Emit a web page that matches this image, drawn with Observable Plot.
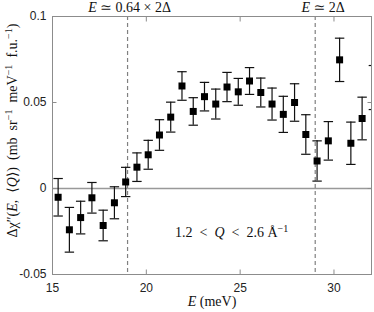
<!DOCTYPE html>
<html>
<head>
<meta charset="utf-8">
<script src="https://cdn.jsdelivr.net/npm/d3@7"></script>
<script src="https://cdn.jsdelivr.net/npm/@observablehq/plot@0.6"></script>
<style>
  html, body { margin: 0; padding: 0; background: #fff; }
  svg { display: block; }
</style>
</head>
<body>
<div id="chart"></div>
<script>
// Energy transfer (meV)
const energy = [15.3, 15.9, 16.5, 17.1, 17.7, 18.3, 18.9, 19.5, 20.1, 20.7, 21.3, 21.9, 22.5, 23.1, 23.7,
                24.3, 24.9, 25.5, 26.1, 26.7, 27.3, 27.9, 28.5, 29.1, 29.7, 30.3, 30.9, 31.5, 32.1];
// Δχ''(E,<Q>) values
const chi = [-0.0051, -0.0240, -0.0169, -0.0054, -0.0215, -0.0083, 0.0038, 0.0124, 0.0196, 0.0311,
             0.0415, 0.0596, 0.0448, 0.0534, 0.0491, 0.0590, 0.0562, 0.0625, 0.0558, 0.0491,
             0.0431, 0.0500, 0.0314, 0.0160, 0.0277, 0.0748, 0.0263, 0.0407, 0.0587];
// error bar half-widths
const err = [0.0109, 0.0130, 0.0095, 0.0089, 0.0089, 0.0093, 0.0085, 0.0083, 0.0084, 0.0089,
             0.0087, 0.0083, 0.0080, 0.0083, 0.0087, 0.0085, 0.0078, 0.0078, 0.0084, 0.0093,
             0.0105, 0.0109, 0.0115, 0.0117, 0.0112, 0.0126, 0.0123, 0.0124, 0.0128];
const xTicks = [15, 20, 25, 30];
const yTicks = [-0.05, 0, 0.05, 0.1];
const markerE = [19, 29];
const markerLabels = ["*E* ≃ 0.64 × 2Δ", "*E* ≃ 2Δ"];
const qLabel = {E: 24.55, v: -0.0254, text: "1.2\u2002<\u2002*Q*\u2002<\u20022.6 Å^{−1}"};
const xLabel = "*E* (meV)";
const yLabel = "Δχ″(*E*,\u2002⟨*Q*⟩)\u2002(mb\u2002sr^{−1}\u2002meV^{−1}\u2002f.u.^{−1})";

const xDomain = [15, 32];
const data = energy.map((E, i) => ({E, v: chi[i], e: err[i]}));
// markers whose centre lies outside the axes are not drawn (only their clipped error bars show)
const inside = data.filter(d => d.E >= xDomain[0] && d.E <= xDomain[1]);

const capSymbol = {
  draw(context, size) {
    const h = Math.sqrt(size / Math.PI);
    context.moveTo(-h, 0);
    context.lineTo(h, 0);
  }
};

const serif = "'Liberation Serif', 'DejaVu Serif', serif";
const gridCol = "#8c8c8c";

const plot = Plot.plot({
  width: 374,
  height: 312,
  marginLeft: 52,
  marginRight: 3,
  marginTop: 16,
  marginBottom: 38,
  style: {fontFamily: "'Liberation Sans', Arial, sans-serif", fontSize: "12px", color: "#222", background: "#fff"},
  x: {domain: xDomain, label: null},
  y: {domain: [-0.05, 0.1], label: null},
  marks: [
    Plot.ruleY([0], {stroke: "#999", strokeWidth: 1.5}),
    Plot.ruleX(markerE, {stroke: "#808080", strokeWidth: 1.2, strokeDasharray: "4,3"}),
    Plot.ruleX(data, {x: "E", y1: d => d.v - d.e, y2: d => d.v + d.e, stroke: "#111", strokeWidth: 1.2, clip: true}),
    Plot.dot(data, {x: "E", y: d => d.v - d.e, symbol: capSymbol, r: 4.7, stroke: "#111", strokeWidth: 1.2, fill: "none", clip: true}),
    Plot.dot(data, {x: "E", y: d => d.v + d.e, symbol: capSymbol, r: 4.7, stroke: "#111", strokeWidth: 1.2, fill: "none", clip: true}),
    Plot.dot(inside, {x: "E", y: "v", symbol: "square", r: 3.95, fill: "#000", stroke: "none"}),
    Plot.frame({stroke: gridCol}),
    // inward ticks on all four sides
    Plot.axisX({ticks: xTicks, anchor: "bottom", tickSize: -4.5, tickFormat: () => "", stroke: gridCol, label: null}),
    Plot.axisX({ticks: xTicks, anchor: "top", tickSize: -4.5, tickFormat: () => "", stroke: gridCol, label: null}),
    Plot.axisY({ticks: yTicks, anchor: "left", tickSize: -4.5, tickFormat: () => "", stroke: gridCol, label: null}),
    Plot.axisY({ticks: yTicks, anchor: "right", tickSize: -4.5, tickFormat: () => "", stroke: gridCol, label: null}),
    // tick labels
    Plot.axisX({ticks: xTicks, anchor: "bottom", tickSize: 0, tickPadding: 9, tickFormat: d => String(d), fill: "#222", label: null}),
    Plot.axisY({ticks: yTicks, anchor: "left", tickSize: 0, tickPadding: 6, tickFormat: d => String(d), fill: "#222", label: null}),
    // annotations
    Plot.text([markerLabels[0]], {x: markerE[0], frameAnchor: "top", dx: 2, dy: -5, lineAnchor: "bottom", text: d => d, fontFamily: serif, fontSize: 14, fill: "#111"}),
    Plot.text([markerLabels[1]], {x: markerE[1], frameAnchor: "top", dx: 8, dy: -5, lineAnchor: "bottom", text: d => d, fontFamily: serif, fontSize: 14, fill: "#111"}),
    Plot.text([qLabel], {x: "E", y: "v", text: "text", fontFamily: serif, fontSize: 14, fill: "#111"}),
    Plot.text([xLabel], {frameAnchor: "bottom", dy: 31, text: d => d, fontFamily: serif, fontSize: 14, fill: "#111"}),
    Plot.text([yLabel], {frameAnchor: "left", textAnchor: "middle", dx: -40, dy: -15, rotate: -90, text: d => d, fontFamily: serif, fontSize: 14, fill: "#111"})
  ]
});

// Render simple markup: *x* -> italic, ^{..} -> superscript
function richify(textEl) {
  const s = textEl.textContent;
  if (!/\*|\^\{/.test(s)) return;
  const parts = s.split(/(\*[^*]+\*|\^\{[^}]+\})/).filter(p => p.length);
  const sel = d3.select(textEl);
  sel.selectAll("*").remove();
  sel.text(null);
  for (const p of parts) {
    if (p.startsWith("*")) {
      sel.append("tspan").attr("font-style", "italic").text(p.slice(1, -1));
    } else if (p.startsWith("^{")) {
      sel.append("tspan").attr("baseline-shift", "super").attr("font-size", "72%").text(p.slice(2, -1));
    } else {
      sel.append("tspan").text(p);
    }
  }
}
d3.select(plot).selectAll("text").each(function() { richify(this); });

document.getElementById("chart").appendChild(plot);
</script>
</body>
</html>
